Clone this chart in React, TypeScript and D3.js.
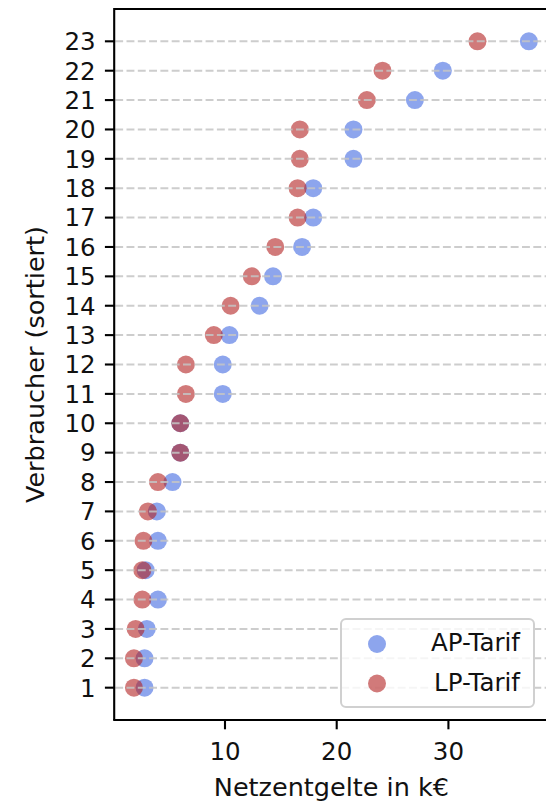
import * as d3 from 'd3'

// Verbraucher (sortiert) und Netzentgelte in k€
const verbraucher = [1, 2, 3, 4, 5, 6, 7, 8, 9, 10, 11, 12, 13, 14, 15, 16, 17, 18, 19, 20, 21, 22, 23]
const apTarif = [2.8, 2.8, 3.0, 4.0, 2.9, 4.0, 3.9, 5.3, 6.0, 6.0, 9.8, 9.8, 10.4, 13.1, 14.3, 16.9, 17.9, 17.9, 21.5, 21.5, 27.0, 29.5, 37.2]
const lpTarif = [1.85, 1.85, 2.0, 2.6, 2.6, 2.7, 3.1, 4.0, 6.0, 6.0, 6.5, 6.5, 9.0, 10.5, 12.4, 14.5, 16.5, 16.5, 16.7, 16.7, 22.7, 24.1, 32.6]
const xTicks = [10, 20, 30]
const seriesNames = ['AP-Tarif', 'LP-Tarif']

const width = 546
const height = 803
const plot = {left: 114.2, right: 548.6, top: 9, bottom: 720}
const font = '"DejaVu Sans", sans-serif'
const blue = '#4169e1'
const red = '#b22222'

export default function App() {
  const all = [...apTarif, ...lpTarif]
  const [lo, hi] = d3.extent(all) as [number, number]
  const pad = (hi - lo) * 0.05
  const x = d3.scaleLinear().domain([lo - pad, hi + pad]).range([plot.left, plot.right])
  const yPad = (d3.max(verbraucher)! - d3.min(verbraucher)!) * 0.05
  const y = d3.scaleLinear()
    .domain([d3.min(verbraucher)! - yPad, d3.max(verbraucher)! + yPad])
    .range([plot.bottom, plot.top])

  const r = 9
  const tickLen = 9.3

  return (
    <svg width={width} height={height} style={{position: 'absolute', left: 0, top: 0}} fontFamily={font}>
      <rect width={width} height={height} fill="white" />
      {/* scatter */}
      {apTarif.map((v, i) => (
        <circle key={'ap' + i} cx={x(v)} cy={y(verbraucher[i])} r={r} fill={blue} fillOpacity={0.6} />
      ))}
      {lpTarif.map((v, i) => (
        <circle key={'lp' + i} cx={x(v)} cy={y(verbraucher[i])} r={r} fill={red} fillOpacity={0.6} />
      ))}
      {/* grid */}
      {verbraucher.map(v => (
        <line key={'g' + v} x1={plot.left + 1} x2={width} y1={y(v)} y2={y(v)}
          stroke="#c4c4c4" strokeOpacity={0.85} strokeWidth={2} strokeDasharray="7.9,3.4" />
      ))}
      {/* spines */}
      <path d={`M${plot.left},${plot.bottom}V${plot.top}H${width + 5}`} fill="none" stroke="black" strokeWidth={2.1} />
      <line x1={plot.left - 1} x2={width + 5} y1={plot.bottom} y2={plot.bottom} stroke="black" strokeWidth={2.1} />
      {/* y ticks */}
      {verbraucher.map(v => (
        <g key={'yt' + v} transform={`translate(${plot.left},${y(v)})`}>
          <line x1={-tickLen} x2={0} stroke="black" strokeWidth={2.1} />
          <text x={-tickLen - 9.3} dy="0.36em" textAnchor="end" fontSize={24.5} fill="#111">{v}</text>
        </g>
      ))}
      {/* x ticks */}
      {xTicks.map(t => (
        <g key={'xt' + t} transform={`translate(${x(t)},${plot.bottom})`}>
          <line y1={0} y2={tickLen} stroke="black" strokeWidth={2.1} />
          <text y={40} textAnchor="middle" fontSize={24.5} fill="#111">{t}</text>
        </g>
      ))}
      {/* axis labels */}
      <text x={(plot.left + plot.right) / 2} y={796} textAnchor="middle" fontSize={25.5} fill="#111">Netzentgelte in k€</text>
      <text transform={`translate(44,${(plot.top + plot.bottom) / 2}) rotate(-90)`} textAnchor="middle" fontSize={25.5} fill="#111">
        Verbraucher (sortiert)
      </text>
      {/* legend */}
      <g>
        <rect x={341} y={619} width={193} height={88} rx={5} fill="white" fillOpacity={0.8} stroke="#d0d0d0" strokeWidth={2} />
        {seriesNames.map((name, i) => (
          <g key={name}>
            <circle cx={377} cy={644 + i * 39.5} r={r} fill={i === 0 ? blue : red} fillOpacity={0.6} />
            <text x={520} y={650.5 + i * 40} textAnchor="end" fontSize={24.5} fill="#111">{name}</text>
          </g>
        ))}
      </g>
    </svg>
  )
}
